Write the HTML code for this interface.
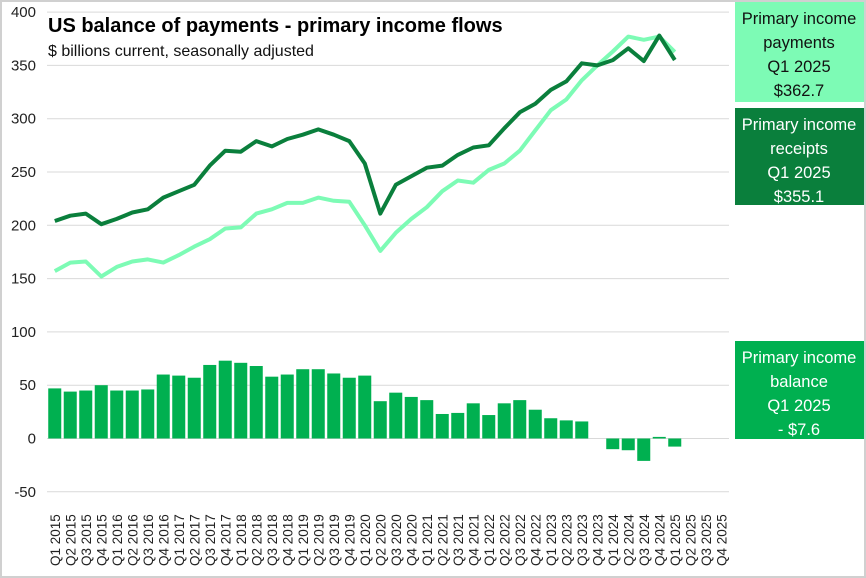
<!DOCTYPE html>
<html><head><meta charset="utf-8"><style>
html,body{margin:0;padding:0;background:#fff}
svg{display:block;font-family:"Liberation Sans",sans-serif}
</style></head><body>
<svg id="c" width="866" height="578" xmlns="http://www.w3.org/2000/svg"></svg>
<script>
const s=document.getElementById('c');let h='';
h+='<rect x="0.5" y="0.5" width="865" height="577" fill="#fff" stroke="#d0d0d0" stroke-width="3"/>';
const y=v=>438.5-v*1.066, L=47,R=729,W=(R-L)/44, cx=i=>L+W*(i+0.5);
for(let v=-50;v<=400;v+=50){h+=`<line x1="${L}" x2="${R}" y1="${y(v)}" y2="${y(v)}" stroke="#d9d9d9" stroke-width="1"/>`;
h+=`<text x="36" y="${y(v)+5}" font-size="15" text-anchor="end" fill="#222">${v}</text>`;}
const bal=[47,44,45,50,45,45,46,60,59,57,69,73,71,68,58,60,65,65,61,57,59,35,43,39,36,23,24,33,22,33,36,27,19,17,16,0,-10,-11,-21,1.5,-7.6];
bal.forEach((v,i)=>{const a=y(Math.max(v,0)),b=y(Math.min(v,0));h+=`<rect x="${cx(i)-W*0.42}" y="${a}" width="${W*0.84}" height="${b-a}" fill="#00b050"/>`});
const rec=[204,209,211,201,206,212,215,226,232,238,256,270,269,279,274,281,285,290,285,279,258,211,238,246,254,256,266,273,275,291,306,314,327,335,352,350,355,366,354,378,355.1];
const pay=[157,165,166,152,161,166,168,165,172,180,187,197,198,211,215,221,221,226,223,222,200,176,193,206,217,232,242,240,252,258,270,289,308,318,336,350,363,377,374,377,362.7];
const pl=a=>a.map((v,i)=>cx(i).toFixed(1)+','+y(v).toFixed(1)).join(' ');
h+=`<polyline points="${pl(pay)}" fill="none" stroke="#7dfbb5" stroke-width="4" stroke-linejoin="round"/>`;
h+=`<polyline points="${pl(rec)}" fill="none" stroke="#0a7f3c" stroke-width="4" stroke-linejoin="round"/>`;
for(let i=0;i<44;i++){const q='Q'+(i%4+1)+' '+(2015+Math.floor(i/4));
h+=`<text transform="translate(${cx(i)+5},566) rotate(-90)" font-size="13.5" fill="#222">${q}</text>`;}
h+='<text x="48" y="32" font-size="20" font-weight="bold" fill="#000">US balance of payments - primary income flows</text>';
h+='<text x="48" y="56" font-size="16" fill="#111">$ billions current, seasonally adjusted</text>';
function box(yy,hh,fill,col,lines){h+=`<rect x="735" y="${yy}" width="129" height="${hh}" fill="${fill}"/>`;
lines.forEach((t,k)=>h+=`<text x="799" y="${yy+22+k*24}" font-size="16.5" text-anchor="middle" fill="${col}">${t}</text>`);}
box(2,100,'#7dfbb5','#111',['Primary income','payments','Q1 2025','$362.7']);
box(108,97,'#0a7f3c','#fff',['Primary income','receipts','Q1 2025','$355.1']);
box(341,98,'#00b050','#fff',['Primary income','balance','Q1 2025','- $7.6']);
s.innerHTML=h;
</script>
</body></html>
